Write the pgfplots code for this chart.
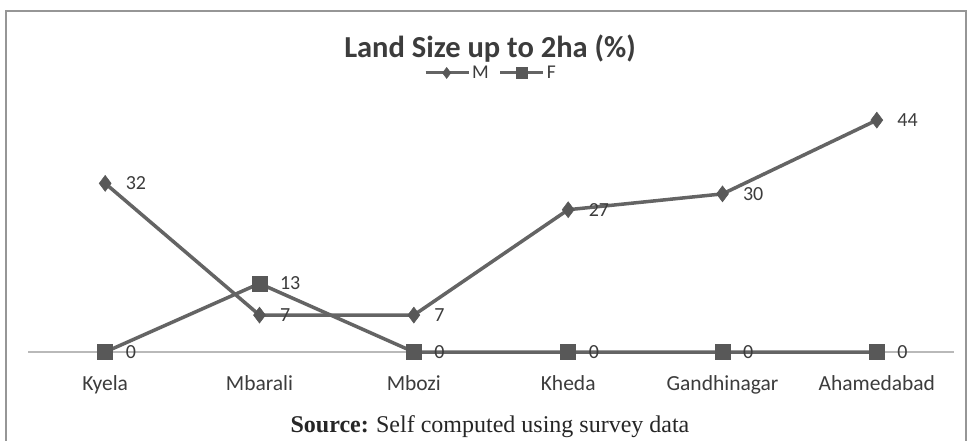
\documentclass[border=0pt]{standalone}
\usepackage{fontspec}
\setmainfont{Carlito}
\newfontfamily\serif{Liberation Serif}
\usepackage{pgfplots}
\pgfplotsset{compat=1.18}
\definecolor{ln}{RGB}{100,100,100}
\definecolor{mk}{RGB}{88,88,88}
\definecolor{txt}{RGB}{60,60,60}
\definecolor{axl}{RGB}{185,185,185}
\definecolor{frm}{RGB}{150,150,150}
\begin{document}
\begin{tikzpicture}
\useasboundingbox (0pt,0pt) rectangle (979pt,-441pt);
\fill[white] (0pt,0pt) rectangle (979pt,-441pt);
\draw[frm, line width=2.5pt] (6pt,-11pt) rectangle (966pt,-470pt);
\node[anchor=base, font=\bfseries\fontsize{30.5}{30.5}\selectfont, text=txt] at (490pt,-58pt) {Land Size up to 2ha (\%)};
\node[anchor=base, font=\fontsize{24}{24}\selectfont, text=black!85] at (490pt,-432pt) {{\serif\bfseries Source:} {\serif Self computed using survey data}};
\begin{axis}[
  at={(28pt,-352pt)}, anchor=south west, scale only axis,
  width=926pt, height=263.5pt,
  xmin=-0.5, xmax=5.5, ymin=0, ymax=50,
  clip=false,
  /pgf/number format/assume math mode=true,
  axis x line=bottom, axis y line=none,
  x axis line style={draw=axl, line width=1.5pt, -},
  major tick length=0pt,
  xtick={0,1,2,3,4,5},
  xticklabels={Kyela,Mbarali,Mbozi,Kheda,Gandhinagar,Ahamedabad},
  xticklabel style={anchor=base, yshift=-38pt, font=\fontsize{21.5}{21.5}\selectfont, text=txt},
  ytick=\empty,
  nodes near coords,
  every node near coord/.append style={anchor=west, xshift=17pt, font=\fontsize{20}{20}\selectfont, text=txt},
  legend columns=2,
  legend style={at={(0.5,1.059)}, anchor=center, draw=none, fill=none,
    font=\fontsize{19.5}{19.5}\selectfont, text=txt,
    /tikz/every even column/.append style={column sep=8pt}},
  legend image code/.code={
    \draw[mark repeat=2, mark phase=2, mark size=5.5pt, line width=3pt] plot coordinates {(0pt,0pt) (21pt,0pt) (43pt,0pt)};
  },
]
\addplot[color=ln, line width=3.5pt, mark=diamond*, mark size=8pt, mark options={fill=mk, draw=mk, line width=0.5pt}]
  coordinates {(0,32) (1,7) (2,7) (3,27) (4,30) (5,44)};
\addlegendentry{M}
\addplot[color=ln, line width=3.5pt, mark=square*, mark size=7.5pt, mark options={fill=mk, draw=mk, line width=0.5pt}]
  coordinates {(0,0) (1,13) (2,0) (3,0) (4,0) (5,0)};
\addlegendentry{F}
\end{axis}
\end{tikzpicture}
\end{document}
